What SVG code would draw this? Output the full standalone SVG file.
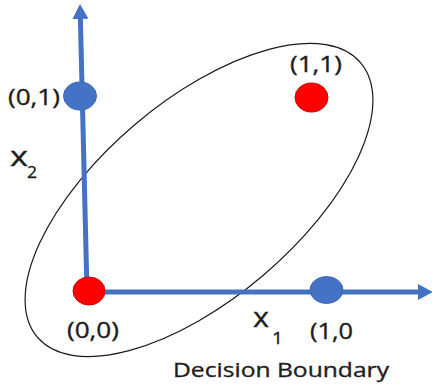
<svg xmlns="http://www.w3.org/2000/svg" width="432" height="387" viewBox="0 0 432 387">
  <style>
    .axis { stroke: #4472C4; stroke-width: 5; fill: none; }
    .blue { fill: #4472C4; stroke: #3f68b5; stroke-width: 1; }
    .red { fill: #FF0000; stroke: #d00000; stroke-width: 1; }
    .lbl { font-family: "Open Sans", "DejaVu Sans", sans-serif; fill: #1e1e1e; stroke: #1e1e1e; stroke-width: 0.35; }
    .coord { font-size: 21px; }
    .var { font-size: 27px; }
    .sub { font-size: 17px; }
    .boundary { fill: none; stroke: #1a1a1a; stroke-width: 1.2; }
  </style>
  <defs>
    <marker id="arrow" viewBox="0 -8 15 16" markerWidth="15" markerHeight="16" refX="0" refY="0" orient="auto" markerUnits="userSpaceOnUse">
      <path d="M0,-8 L15,0 L0,8 Z" fill="#4472C4"/>
    </marker>
  </defs>
  <rect width="432" height="387" fill="#ffffff"/>

  <g id="decision-boundary">
    <ellipse class="boundary" cx="199" cy="200" rx="212" ry="99" transform="rotate(-40.3 199 200)"/>
    <text class="lbl" x="173" y="377" font-size="20" textLength="216" lengthAdjust="spacingAndGlyphs">Decision Boundary</text>
  </g>

  <g id="connectors">
    <line class="axis" x1="87" y1="292" x2="80.4" y2="19" marker-end="url(#arrow)"/>
    <line class="axis" x1="87" y1="292" x2="418" y2="292" marker-end="url(#arrow)"/>
  </g>

  <g id="axis-x2-label">
    <text class="lbl var" x="10" y="166" textLength="18" lengthAdjust="spacingAndGlyphs">x</text>
    <text class="lbl sub" x="27" y="178" textLength="10" lengthAdjust="spacingAndGlyphs">2</text>
  </g>
  <g id="axis-x1-label">
    <text class="lbl var" x="253" y="327" textLength="16" lengthAdjust="spacingAndGlyphs">x</text>
    <text class="lbl sub" x="272" y="344" textLength="11" lengthAdjust="spacingAndGlyphs">1</text>
  </g>

  <g id="point-0-1">
    <ellipse class="blue" cx="80" cy="96" rx="16.5" ry="14"/>
    <text class="lbl coord" x="8" y="105" textLength="52" lengthAdjust="spacingAndGlyphs">(0,1)</text>
  </g>
  <g id="point-1-1">
    <ellipse class="red" cx="311.5" cy="97.5" rx="16.5" ry="14.5"/>
    <text class="lbl coord" x="290" y="72" textLength="52" lengthAdjust="spacingAndGlyphs">(1,1)</text>
  </g>
  <g id="point-0-0">
    <ellipse class="red" cx="89" cy="291" rx="16" ry="14"/>
    <text class="lbl coord" x="67" y="338" textLength="52" lengthAdjust="spacingAndGlyphs">(0,0)</text>
  </g>
  <g id="point-1-0">
    <ellipse class="blue" cx="326.5" cy="290" rx="16.5" ry="13.5"/>
    <text class="lbl coord" x="310" y="339" textLength="43" lengthAdjust="spacingAndGlyphs">(1,0</text>
  </g>
</svg>
